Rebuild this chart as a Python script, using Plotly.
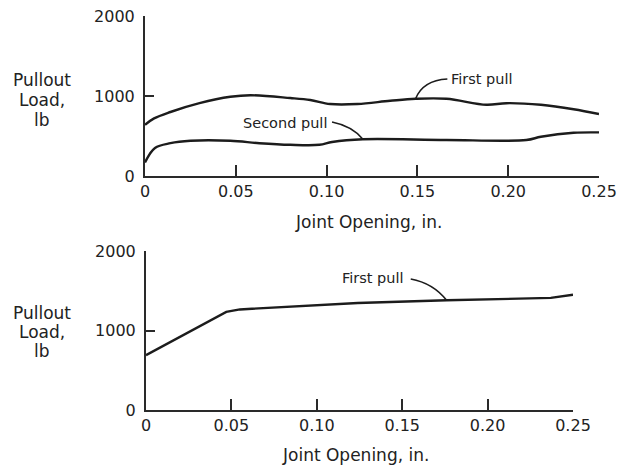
import plotly.graph_objects as go

# ---- data ----
top_first_x = [0, 0.005, 0.014, 0.03, 0.047, 0.058, 0.08, 0.091, 0.102, 0.117, 0.135,
               0.149, 0.166, 0.188, 0.199, 0.218, 0.236, 0.25]
top_first_y = [640, 720, 800, 910, 990, 1010, 975, 950, 900, 900, 940,
               965, 965, 890, 910, 890, 835, 775]

top_second_x = [0, 0.0055, 0.014, 0.025, 0.047, 0.063, 0.08, 0.096, 0.103, 0.12,
                0.166, 0.21, 0.218, 0.236, 0.25]
top_second_y = [170, 350, 410, 440, 440, 410, 390, 390, 425, 460,
                450, 450, 490, 540, 545]

bot_first_x = [0, 0.047, 0.055, 0.09, 0.124, 0.176, 0.221, 0.237, 0.25]
bot_first_y = [690, 1235, 1265, 1310, 1345, 1380, 1400, 1410, 1450]

x_tickvals = [0, 0.05, 0.10, 0.15, 0.20, 0.25]
x_ticktext = ["0", "0.05", "0.10", "0.15", "0.20", "0.25"]
y_tickvals = [0, 1000, 2000]
y_ticktext = ["0", "1000", "2000"]

FONT = "DejaVu Sans"
INK = "#222222"
LINE = "#1c1c1c"

fig = go.Figure()
fig.add_trace(go.Scatter(x=top_first_x, y=top_first_y, mode="lines",
                         line=dict(color=LINE, width=2.4, shape="spline", smoothing=1.0),
                         xaxis="x", yaxis="y", showlegend=False, hoverinfo="skip"))
fig.add_trace(go.Scatter(x=top_second_x, y=top_second_y, mode="lines",
                         line=dict(color=LINE, width=2.4, shape="spline", smoothing=1.0),
                         xaxis="x", yaxis="y", showlegend=False, hoverinfo="skip"))
fig.add_trace(go.Scatter(x=bot_first_x, y=bot_first_y, mode="lines",
                         line=dict(color=LINE, width=2.4, shape="linear"),
                         xaxis="x2", yaxis="y2", showlegend=False, hoverinfo="skip"))

axis_common = dict(showgrid=False, zeroline=False, showline=True, linecolor="#2a2a2a",
                   linewidth=2, ticks="inside", tickcolor="#2a2a2a", tickwidth=2,
                   tickfont=dict(family=FONT, size=16, color=INK), fixedrange=True)

fig.update_layout(
    width=626, height=468,
    margin=dict(l=0, r=0, t=0, b=0, autoexpand=False),
    paper_bgcolor="white", plot_bgcolor="white",
    xaxis=dict(domain=[145/626, 599/626], range=[0, 0.25], anchor="y",
               tickvals=x_tickvals, ticktext=x_ticktext, ticklen=11, **axis_common),
    yaxis=dict(domain=[(468-176)/468, (468-16)/468], range=[0, 2000], anchor="x",
               tickvals=y_tickvals, ticktext=y_ticktext, ticklen=9,
               ticklabelstandoff=5, **axis_common),
    xaxis2=dict(domain=[146/626, 573/626], range=[0, 0.25], anchor="y2",
                tickvals=x_tickvals, ticktext=x_ticktext, ticklen=11, **axis_common),
    yaxis2=dict(domain=[(468-410)/468, (468-251)/468], range=[0, 2000], anchor="x2",
                tickvals=y_tickvals, ticktext=y_ticktext, ticklen=9,
                ticklabelstandoff=5, **axis_common),
)

lab_font = dict(family=FONT, size=14.5, color=INK)
title_font = dict(family=FONT, size=17, color=INK)

annotations = []
# curve labels
annotations.append(dict(x=0.1675, y=1212, xref="x", yref="y", text="First pull",
                        showarrow=False, xanchor="left", yanchor="middle", font=lab_font))
annotations.append(dict(x=0.1015, y=662, xref="x", yref="y", text="Second pull",
                        showarrow=False, xanchor="right", yanchor="middle", font=lab_font))
annotations.append(dict(x=0.1136, y=1660, xref="x2", yref="y2", text="First pull",
                        showarrow=False, xanchor="left", yanchor="middle", font=lab_font))

# axis titles
annotations.append(dict(x=368/626, y=(468-222)/468, xref="paper", yref="paper",
                        text="Joint Opening, in.", showarrow=False, font=title_font,
                        xanchor="center", yanchor="middle"))
annotations.append(dict(x=355/626, y=(468-455)/468, xref="paper", yref="paper",
                        text="Joint Opening, in.", showarrow=False, font=title_font,
                        xanchor="center", yanchor="middle"))
for lines_y in ([80, 100, 120], [313, 332, 351]):
    for txt, yy in zip(["Pullout", "Load,", "lb"], lines_y):
        annotations.append(dict(x=42/626, y=(468-yy)/468, xref="paper", yref="paper",
                                text=txt, showarrow=False, font=title_font,
                                xanchor="center", yanchor="middle"))
fig.update_layout(annotations=annotations)

# curved leader lines ending on data points
def leader(x0, y0, cx, cy, xr, yr, xs, ys, idx):
    x1, y1 = xs[idx], ys[idx]
    return dict(type="path", xref=xr, yref=yr,
                path=f"M {x0},{y0} Q {cx},{cy} {x1},{y1}",
                line=dict(color=LINE, width=1.6))

fig.update_layout(shapes=[
    leader(0.1665, 1212, 0.153, 1195, "x", "y", top_first_x, top_first_y, 11),
    leader(0.103, 675, 0.114, 625, "x", "y", top_second_x, top_second_y, 9),
    leader(0.155, 1648, 0.168, 1597, "x2", "y2", bot_first_x, bot_first_y, 5),
])

fig.write_html("out.html", config={"displayModeBar": False},
               post_script="document.body.style.margin='0';document.body.style.overflow='hidden';")
